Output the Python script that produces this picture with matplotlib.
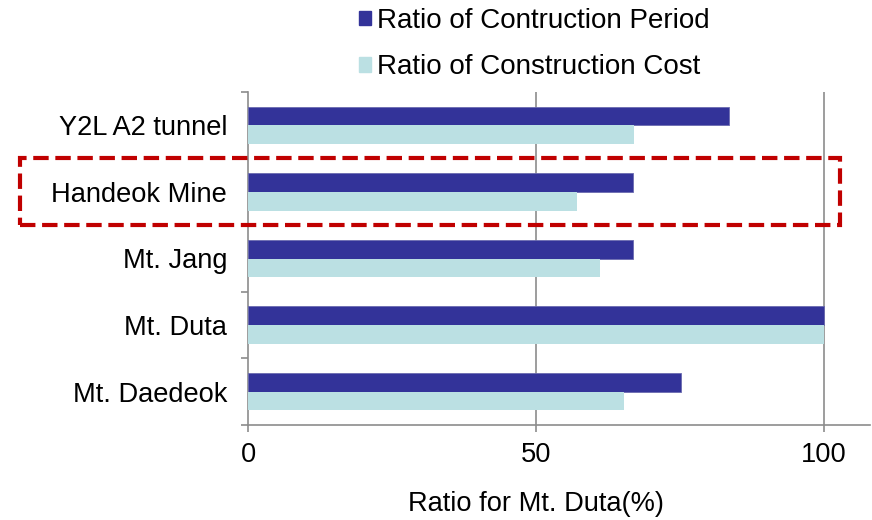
import matplotlib
matplotlib.use("Agg")
import matplotlib.pyplot as plt
import matplotlib.patches as mpatches
import numpy as np

plt.rcParams['font.family'] = ['Liberation Sans', 'DejaVu Sans']

# bottom to top
sites = ["Mt. Daedeok", "Mt. Duta", "Mt. Jang", "Handeok Mine", "Y2L A2 tunnel"]
period = [75.1, 100, 66.8, 66.8, 83.5]
cost = [65.2, 100, 61.2, 57.2, 67.1]
x_ticks = [0, 50, 100]
series_names = ["Ratio of Contruction Period", "Ratio of Construction Cost"]
x_label = "Ratio for Mt. Duta(%)"

c_period = "#333399"
c_cost = "#bbe0e3"
c_axis = "#8c8c8c"
fs = 19.6

fig = plt.figure(figsize=(8.72, 5.20), dpi=100)
ax = fig.add_axes([248 / 872, 1 - 425 / 520, 622 / 872, 333 / 520])

y = np.arange(len(sites))
h = 0.28
ax.barh(y + h / 2, period, height=h, color=c_period, edgecolor="#6b6bb0", linewidth=0.6, zorder=3)
ax.barh(y - h / 2, cost, height=h, color=c_cost, edgecolor="none", zorder=3)

ax.set_xlim(0, 108)
ax.set_ylim(-0.5, len(sites) - 0.5)

ax.set_xticks(x_ticks)
ax.set_xticklabels([str(v) for v in x_ticks], fontsize=fs)
ax.set_yticks(y)
ax.set_yticklabels(sites, fontsize=fs)
ax.tick_params(axis="y", which="major", length=0, pad=15)
ax.set_yticks(np.arange(len(sites) + 1) - 0.5, minor=True)
ax.tick_params(axis="y", which="minor", length=5, color=c_axis, width=1.2)
ax.tick_params(axis="x", length=5, color=c_axis, width=1.2, pad=7)

for v in x_ticks[1:]:
    ax.axvline(v, color=c_axis, linewidth=1.2, zorder=1)

for s in ["top", "right"]:
    ax.spines[s].set_visible(False)
for s in ["left", "bottom"]:
    ax.spines[s].set_color(c_axis)
    ax.spines[s].set_linewidth(1.2)

ax.set_xlabel(x_label, fontsize=fs)
ax.xaxis.set_label_coords(50 / 108, -0.198)

handles = [mpatches.Patch(color=c_period), mpatches.Patch(color=c_cost)]
fig.legend(handles, series_names, loc="upper left", bbox_to_anchor=(348 / 872, 1.0 + 3 / 520),
           frameon=False, fontsize=20, handlelength=0.43, handleheight=0.43,
           handletextpad=0.22, labelspacing=0.73, borderaxespad=0.0)

# highlight box around Handeok Mine
box = mpatches.Rectangle((20 / 872, 1 - 225 / 520), (840 - 20) / 872, (225 - 158) / 520,
                         transform=fig.transFigure, fill=False, edgecolor="#c00000",
                         linewidth=3.0, linestyle=(0, (3.7, 1.6)), clip_on=False, zorder=10)
fig.patches.append(box)

fig.savefig("out.png", dpi=100)
